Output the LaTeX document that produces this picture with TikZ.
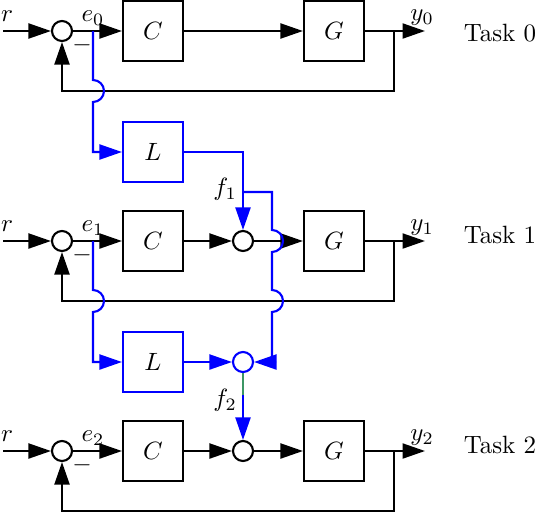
\documentclass[tikz,border=0pt]{standalone}
\usetikzlibrary{arrows.meta}
\definecolor{fgreen}{RGB}{60,150,100}
\begin{document}
\begin{tikzpicture}[x=0.4pt,y=-0.4pt,line width=0.85pt,
  blk/.style={draw,minimum size=24pt,inner sep=0pt},
  sumc/.style={draw,circle,minimum size=8pt,inner sep=0pt},
  arr/.style={-{Triangle[length=9pt,width=6pt]}}]
\useasboundingbox (0,0) rectangle (539,514);
% ---------- loops ----------
\foreach \i/\yy in {0/31,1/241,2/451}{
  \coordinate (in\i) at (3,\yy);
  \node[sumc] (s\i) at (62,\yy) {};
  \node[blk] (c\i) at (153,\yy) {$C$};
  \node[blk] (g\i) at (334,\yy) {$G$};
  \coordinate (t\i) at (394,\yy);
  \coordinate (o\i) at (425,\yy);
  \coordinate (e\i) at (93,\yy);
  \coordinate (fb\i) at (62,\yy+60);
  \draw[arr] (in\i) -- (s\i);
  \draw[arr] (s\i) -- (c\i);
  \draw[arr] (g\i) -- (o\i);
  \draw[arr] (t\i) |- (fb\i) -- (s\i);
  \node at (7,\yy-15) {$r$};
  \node at (93,\yy-13) {$e_{\i}$};
  \node at (82,\yy+14) {$-$};
  \node at (422,\yy-13) {$y_{\i}$};
}
\draw[arr] (c0) -- (g0);
\node[sumc] (a1) at (243,241) {};
\node[sumc] (a2) at (243,451) {};
\draw[arr] (c1) -- (a1);
\draw[arr] (a1) -- (g1);
\draw[arr] (c2) -- (a2);
\draw[arr] (a2) -- (g2);
\node at (500,33) {Task 0};
\node at (500,235) {Task 1};
\node at (500,445) {Task 2};
% ---------- learning blocks ----------
\begin{scope}[blue]
\node[blk,text=black] (l0) at (153,152) {$L$};
\node[blk,text=black] (l1) at (153,362) {$L$};
\node[sumc] (b1) at (243,362) {};
\coordinate (br) at (243,192);
\coordinate (f2c) at (243,395);
\draw[arr] (e0) -- (93,80) arc[start angle=90,end angle=-90,radius=4.4pt] |- (l0);
\draw[arr] (e1) -- (93,290) arc[start angle=90,end angle=-90,radius=4.4pt] |- (l1);
\draw[arr] (l0.east) -| (a1);
\draw[arr] (br) -- (272,192) -- (272,230) arc[start angle=90,end angle=-90,radius=4.4pt]
  -- (272,290) arc[start angle=90,end angle=-90,radius=4.4pt] |- (b1);
\draw[arr] (l1) -- (b1);
\draw[arr] (f2c) -- (a2);
\end{scope}
\draw[fgreen] (b1) -- (f2c);
\node at (225,189) {$f_1$};
\node at (225,400) {$f_2$};
\end{tikzpicture}
\end{document}
